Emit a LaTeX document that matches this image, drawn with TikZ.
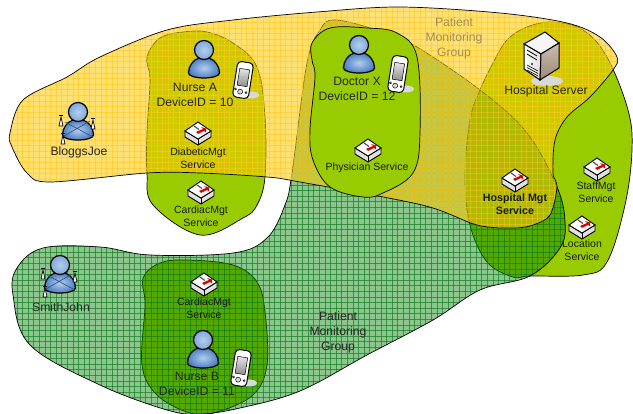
\documentclass[tikz,border=0pt]{standalone}
\usepackage{fontspec}
\setmainfont{Liberation Sans}
\usetikzlibrary{positioning}
\definecolor{limefill}{HTML}{99CC00}
\definecolor{yellowfill}{HTML}{FFC800}
\definecolor{yellowline}{HTML}{FFC81E}
\definecolor{greenfill}{HTML}{008000}
\definecolor{greenline}{HTML}{0A7A1E}
\definecolor{blueskin}{HTML}{7FA8DA}
\definecolor{bluedark}{HTML}{4C7FC4}
\definecolor{bluelight}{HTML}{B4CEEC}
\definecolor{labelgrey}{HTML}{A08F58}
\def\greenblob{plot[smooth cycle,tension=0.6] coordinates {(43,248) (100,247) (150,255) (233,253) (267,238) (285,205) (292,173) (307,63) (320,30) (333,20) (367,27) (410,43) (480,90) (527,133) (557,187) (565,222) (560,248) (530,276) (480,290) (433,320) (367,355) (300,391) (240,408) (200,414) (167,410) (100,385) (30,345) (13,295) (17,268)}}
\def\yellowblob{plot[smooth cycle,tension=0.55] coordinates {(10,133) (23,100) (67,77) (100,57) (167,30) (233,20) (317,12) (400,7) (500,13) (567,23) (600,37) (617,57) (613,70) (590,97) (567,117) (555,140) (553,173) (557,187) (550,215) (533,225) (513,228) (477,225) (422,205) (300,182) (267,177) (200,173) (147,173) (50,182) (27,173) (12,147)}}
\tikzset{
	blob/.style={draw=black,line width=0.7pt},
	biglabel/.style={font=\fontsize{12.2}{15}\selectfont,align=center,text=black!85,inner sep=0pt},
	svclabel/.style={font=\fontsize{10.5}{13}\selectfont,align=center,text=black!90,inner sep=0pt},
	person/.pic={
		\draw[line width=1.2pt,inner color=bluelight,outer color=bluedark] (-5,8) .. controls (-11,10) and (-15.5,16) .. (-15.5,23) .. controls (-15.5,26) and (-8,28) .. (0,28) .. controls (8,28) and (15.5,26) .. (15.5,23) .. controls (15.5,16) and (11,10) .. (5,8) -- cycle;
		\draw[line width=1.2pt,inner color=bluelight,outer color=blueskin] (0,0) circle (9.5);
	},
	patient/.pic={
		\pic {person};
		\draw[line width=0.6pt,bluedark!60!black] (-13,10) -- (15,25) (-14,24) -- (12,9);
		\foreach \bx/\by in {-17/5,15/8,-15/23}
			\draw[fill=white,line width=0.7pt] (\bx,\by) -- ++(-2,9) -- ++(4,0) -- cycle (\bx-2,\by-1.5) -- ++(4,0);
	},
	device/.pic={
		\fill[black!15] (8,15) ellipse (8 and 3.5);
		\draw[line width=1pt,fill=white,rounded corners=4,rotate=-9] (-8,-18) rectangle (8,18);
		\draw[line width=0.5pt,rotate=-9,top color=black!10,bottom color=black!45] (-5,-11) rectangle (5,6);
		\draw[line width=0.5pt,fill=black!15,rotate=-9] (-1,12) circle (2.5) (-6,10) circle (1) (5,12) circle (1);
	},
	server/.pic={
		\fill[black!15] (6,26) ellipse (16 and 5);
		\draw[line width=1pt,fill=black!4] (-17,-11) -- (4,-23) -- (18,-12) -- (0,-1) -- cycle;
		\draw[line width=1pt,left color=white,right color=orange!25!black!15] (-17,-11) -- (0,-1) -- (-1,25) -- (-17,14) -- cycle;
		\draw[line width=1pt,top color=orange!30!black!30,bottom color=orange!30!black!55] (0,-1) -- (18,-12) -- (18,13) -- (-1,25) -- cycle;
		\draw[line width=0.8pt] (-14,-5) -- (-4,1) (-14,-1) -- (-4,5);
		\fill[black!70] (-9,9) circle (1.3);
		\foreach \vy in {14,16.5,19}
			\draw[line width=0.6pt] (-14,\vy-4) -- (-3,\vy+2);
	},
	service/.pic={
		\draw[line width=0.9pt,fill=black!12] (-13,0) -- (-13,6) -- (0,14) -- (13,6) -- (13,0) -- (0,8) -- cycle;
		\draw[line width=0.9pt,fill=white] (-13,0) -- (0,-9) -- (13,0) -- (0,8) -- cycle;
		\draw[line width=0.9pt] (0,8) -- (0,14);
		\draw[line width=1.1pt,black!70] (-4,-5) -- (1,-1.5);
		\fill[red!85!black] (-2,1) -- (5,-2) -- (3,-4) -- (8,-2.5) -- (8,1.5) -- (6,0) -- (0,3) -- cycle;
	},
}
\begin{document}
\begin{tikzpicture}[x=1pt,y=-1pt]
	\useasboundingbox (0,0) rectangle (633,414);
	% lime regions sit at the bottom
	\draw[blob,fill=limefill] plot[smooth cycle,tension=0.6] coordinates {(493,63) (507,40) (527,27) (553,22) (583,30) (607,57) (628,110) (632,150) (625,205) (607,262) (583,275) (530,276) (513,277) (487,262) (470,225) (465,177) (470,120) (480,90)};
	\draw[blob,fill=limefill] plot[smooth cycle,tension=0.6] coordinates {(183,32) (160,38) (147,57) (150,80) (147,133) (147,173) (153,205) (200,235) (243,218) (257,205) (265,177) (265,117) (257,67) (233,43) (207,32)};
	\draw[blob,fill=limefill] plot[smooth cycle,tension=0.6] coordinates {(143,278) (160,263) (187,260) (233,265) (257,282) (265,312) (267,365) (253,395) (217,412) (190,413) (157,395) (142,365) (145,305)};

	% green group
	\fill[greenfill,fill opacity=0.45] \greenblob;
	\begin{scope}
		\clip \greenblob;
		\foreach \gx in {0,5.6,...,640}
			\draw[greenline,line width=0.5pt,opacity=0.65] (\gx,0) -- (\gx,414);
		\foreach \gy in {0,5.6,...,420}
			\draw[greenline,line width=0.5pt,opacity=0.65] (0,\gy) -- (633,\gy);
	\end{scope}
	\draw[blob] \greenblob;

	% yellow group
	\fill[yellowfill,fill opacity=0.55] \yellowblob;
	\begin{scope}
		\clip \yellowblob;
		\foreach \gx in {0,5.6,...,640}
			\draw[yellowline,line width=0.5pt,opacity=0.6] (\gx,0) -- (\gx,414);
		\foreach \gy in {0,5.6,...,420}
			\draw[yellowline,line width=0.5pt,opacity=0.6] (0,\gy) -- (633,\gy);
	\end{scope}
	\draw[blob] \yellowblob;

	% doctor region on top of both groups
	\draw[blob,fill=limefill] plot[smooth cycle,tension=0.6] coordinates {(312,43) (330,28) (367,28) (397,33) (417,57) (420,133) (413,173) (383,193) (363,197) (330,187) (313,160) (310,130) (315,77) (312,60)};

	% people and devices
	\pic at (204,50) {person};
	\pic at (359,45) {person};
	\pic at (203,340) {person};
	\pic at (78,112) {patient};
	\pic at (60,265) {patient};
	\pic at (243,80) {device};
	\pic at (398,74) {device};
	\pic at (241,368) {device};
	\pic at (541,55) {server};

	\pic at (198,131) {service};
	\pic at (201,190) {service};
	\pic at (368,148) {service};
	\pic at (515,178) {service};
	\pic at (597,167) {service};
	\pic at (582,225) {service};
	\pic at (204,282) {service};

	% labels
	\node[biglabel,text=labelgrey] (grouptop) at (454,38) {Patient\\Monitoring\\Group};
	\node[biglabel] (nursea) at (195,95) {Nurse A\\DeviceID = 10};
	\node[biglabel] (doctorx) at (357,89) {Doctor X\\DeviceID = 12};
	\node[biglabel] (nurseb) at (197,384) {Nurse B\\DeviceID = 11};
	\node[biglabel] (bloggs) at (79,152) {BloggsJoe};
	\node[biglabel] (smith) at (61,307) {SmithJohn};
	\node[biglabel] (hospital) at (546,91) {Hospital Server};
	\node[biglabel] (groupbottom) at (338,332) {Patient\\Monitoring\\Group};

	\node[svclabel] (diabetic) at (198,158.5) {DiabeticMgt\\Service};
	\node[svclabel] (cardiaca) at (201,216) {CardiacMgt\\Service};
	\node[svclabel] (physician) at (367,168) {Physician Service};
	\node[svclabel,font=\fontsize{10.7}{12.5}\selectfont\bfseries] (hospitalmgt) at (515,204) {Hospital Mgt\\Service};
	\node[svclabel] (staff) at (596,192.5) {StaffMgt\\Service};
	\node[svclabel] (location) at (582,250.5) {Location\\Service};
	\node[svclabel] (cardiacb) at (204,308) {CardiacMgt\\Service};
\end{tikzpicture}
\end{document}
